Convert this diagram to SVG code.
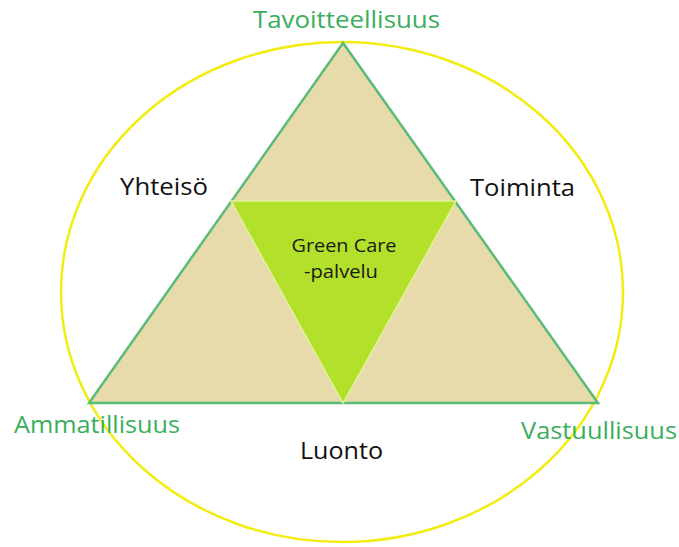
<svg xmlns="http://www.w3.org/2000/svg" width="679" height="547" viewBox="0 0 679 547">
<style>
.lbl{font-family:"Open Sans","Noto Sans","Liberation Sans",sans-serif;font-size:23px}
.g{fill:#3aae5c}
.k{fill:#111}
.c{font-family:"Open Sans","Noto Sans","Liberation Sans",sans-serif;font-size:18px;fill:#1a1a1a}
</style>
<rect width="679" height="547" fill="#fff"/>
<g id="circle"><ellipse cx="342" cy="292" rx="281" ry="250" fill="none" stroke="#f3ec10" stroke-width="2.5"/></g>
<g id="outer-triangle"><polygon points="343,43 89,403 598,403" fill="#e7dbab" stroke="#5dbb7a" stroke-width="2.5" stroke-linejoin="miter"/></g>
<g id="inner-triangle"><polygon points="231,201 456,201 343,403" fill="#b3e02b" stroke="#e0f296" stroke-width="1.5"/>
<text class="c" x="344" y="252" text-anchor="middle" textLength="105" lengthAdjust="spacingAndGlyphs">Green Care</text>
<text class="c" x="341" y="278" text-anchor="middle" textLength="74" lengthAdjust="spacingAndGlyphs">-palvelu</text></g>
<g id="labels">
<text class="lbl g" x="253" y="28" textLength="187" lengthAdjust="spacingAndGlyphs">Tavoitteellisuus</text>
<text class="lbl k" x="120" y="195" textLength="88" lengthAdjust="spacingAndGlyphs">Yhteisö</text>
<text class="lbl k" x="470" y="196" textLength="105" lengthAdjust="spacingAndGlyphs">Toiminta</text>
<text class="lbl g" x="14" y="433" textLength="166" lengthAdjust="spacingAndGlyphs">Ammatillisuus</text>
<text class="lbl g" x="521" y="439" textLength="156" lengthAdjust="spacingAndGlyphs">Vastuullisuus</text>
<text class="lbl k" x="300" y="459" textLength="83" lengthAdjust="spacingAndGlyphs">Luonto</text>
</g>
</svg>
